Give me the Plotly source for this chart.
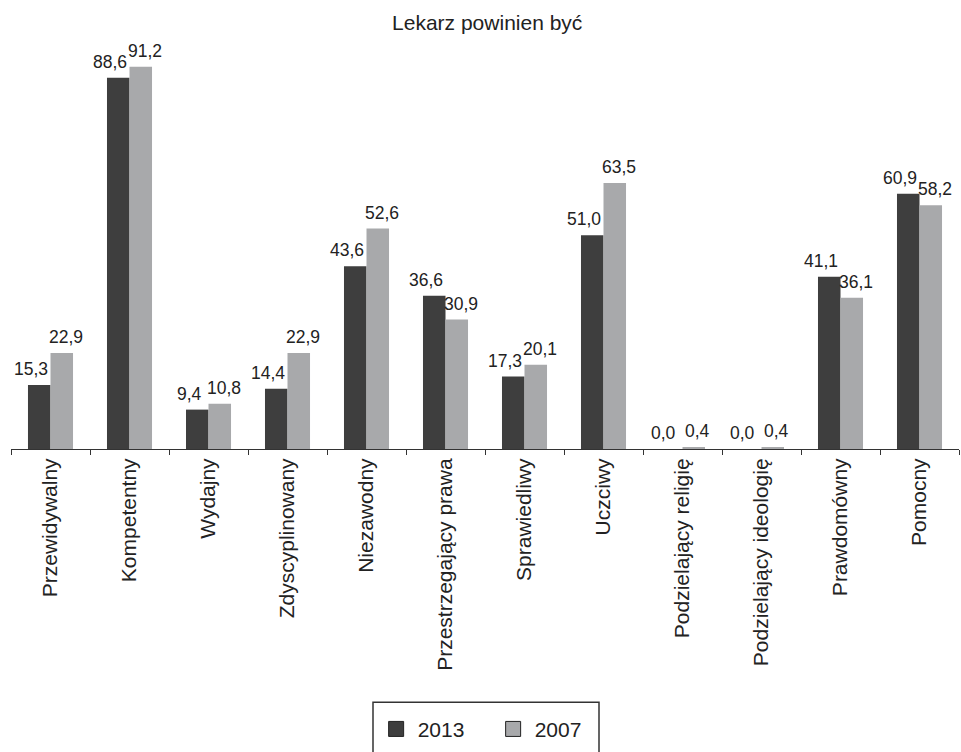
import plotly.graph_objects as go

categories = ["Przewidywalny", "Kompetentny", "Wydajny", "Zdyscyplinowany", "Niezawodny",
              "Przestrzegający prawa", "Sprawiedliwy", "Uczciwy", "Podzielający religię",
              "Podzielający ideologię", "Prawdomówny", "Pomocny"]
values_2013 = [15.3, 88.6, 9.4, 14.4, 43.6, 36.6, 17.3, 51.0, 0.0, 0.0, 41.1, 60.9]
values_2007 = [22.9, 91.2, 10.8, 22.9, 52.6, 30.9, 20.1, 63.5, 0.4, 0.4, 36.1, 58.2]

font = "Liberation Sans, Arial, sans-serif"
dark = "#3e3e3e"
light = "#a8a9ab"
text_col = "#222222"

fig = go.Figure()
fig.add_trace(go.Bar(x=categories, y=values_2013, name="2013",
                     marker=dict(color=dark, line=dict(width=0)), showlegend=False))
fig.add_trace(go.Bar(x=categories, y=values_2007, name="2007",
                     marker=dict(color=light, line=dict(width=0)), showlegend=False))

# legend-only square markers
fig.add_trace(go.Scatter(x=[None], y=[None], mode="markers", name="2013",
                         marker=dict(symbol="square", size=15, color=dark,
                                     line=dict(color="#222222", width=1))))
fig.add_trace(go.Scatter(x=[None], y=[None], mode="markers", name="2007",
                         marker=dict(symbol="square", size=15, color=light,
                                     line=dict(color="#222222", width=1))))

# value labels above each bar, nudged apart so neighbours don't collide
half = 11.3
for cat, v13, v07 in zip(categories, values_2013, values_2007):
    for v, shift in ((v13, -half - 8), (v07, half + 4)):
        fig.add_annotation(x=cat, y=v, xref="x", yref="y", xshift=shift, yshift=4,
                           text=f"{v:.1f}".replace(".", ","), showarrow=False,
                           yanchor="bottom", xanchor="center",
                           font=dict(size=17.5, color=text_col, family=font))

# legend frame (runs off the bottom edge of the page)
fig.add_shape(type="rect", xref="paper", yref="paper",
              x0=(373 - 11) / 948, x1=(599 - 11) / 948,
              y0=(457 - 715) / 427, y1=(457 - 770) / 427,
              line=dict(color="#333333", width=1.5), fillcolor="rgba(0,0,0,0)")

fig.update_layout(
    width=961, height=752,
    barmode="group", bargap=0.43, bargroupgap=0,
    plot_bgcolor="white", paper_bgcolor="white",
    margin=dict(l=11, r=2, t=30, b=295),
    font=dict(family=font, color=text_col),
    title=dict(text="Lekarz powinien być", x=0.507, xanchor="center",
               y=1 - 23 / 752, yanchor="middle", yref="container",
               font=dict(size=21, color=text_col, family=font)),
    showlegend=True,
    legend=dict(orientation="h", x=0.507, xanchor="center", y=-0.62, yanchor="top",
                borderwidth=0, bgcolor="rgba(0,0,0,0)",
                font=dict(size=21, color=text_col, family=font),
                itemwidth=33,
                entrywidthmode="pixels", entrywidth=69,
                traceorder="normal"),
)
fig.update_xaxes(
    showline=True, linecolor="#333333", linewidth=1,
    ticks="outside", tickson="boundaries", ticklen=5, tickcolor="#333333",
    tickangle=-90, tickfont=dict(size=21, color=text_col, family=font),
    showgrid=False,
)
fig.update_yaxes(range=[0, 100], visible=False, showgrid=False)

fig.write_html("out.html")
